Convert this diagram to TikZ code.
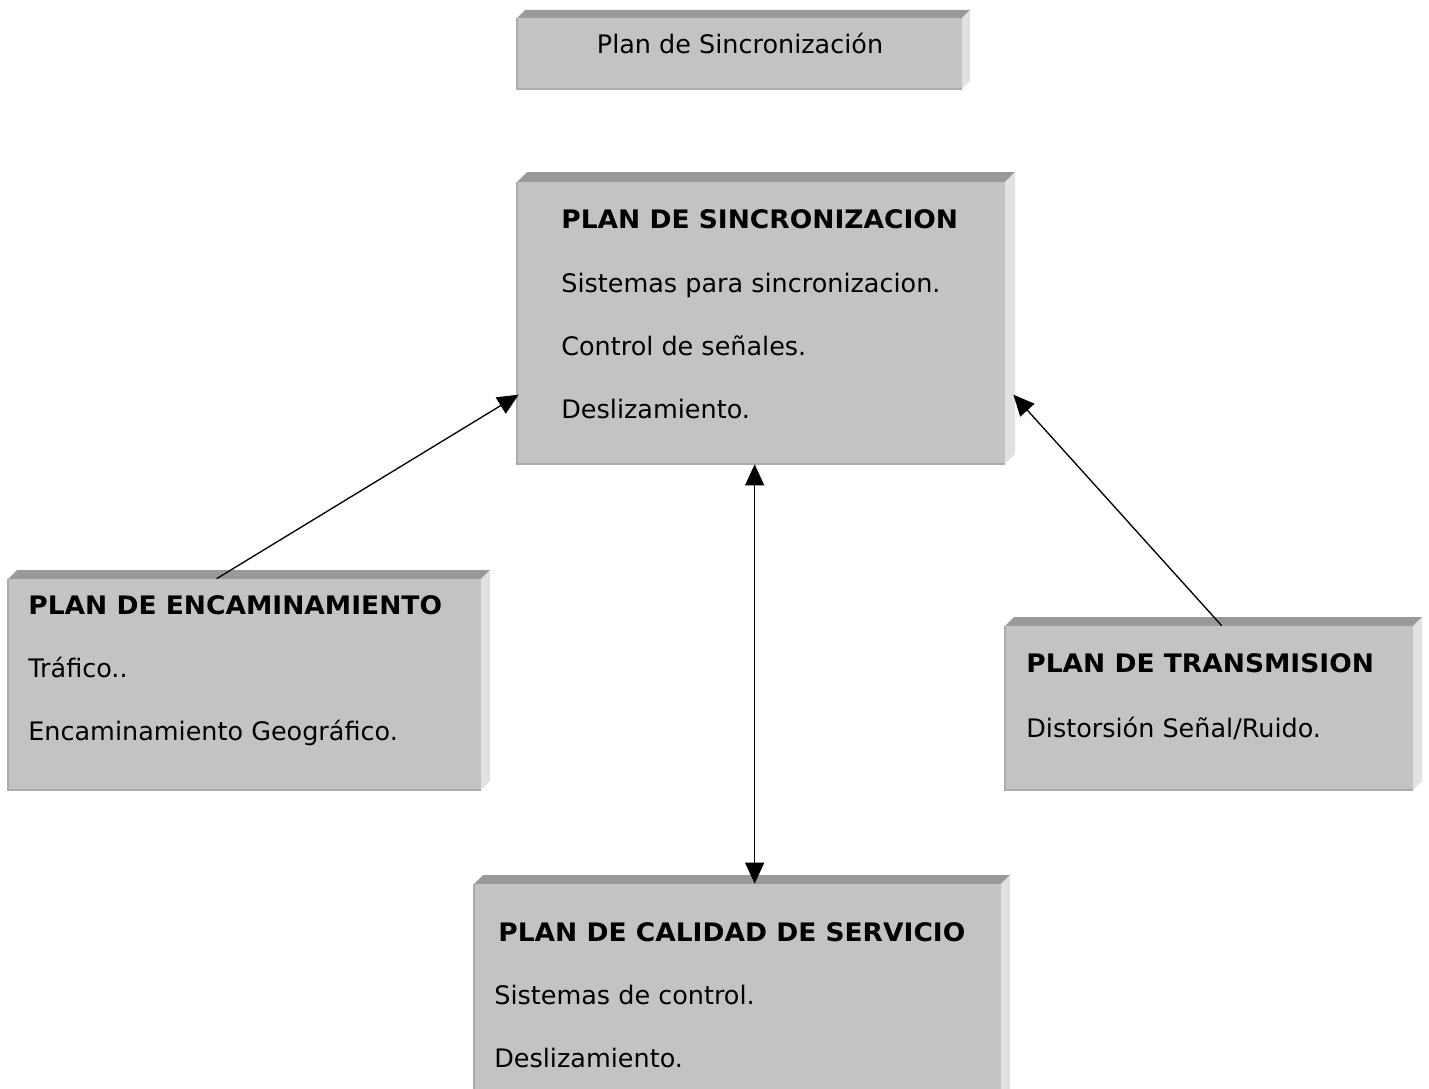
\documentclass[tikz,border=0pt]{standalone}
\usepackage{fontspec}
\setmainfont{DejaVu Sans}
\newfontfamily\widesans{DejaVu Sans}[FakeStretch=1.04]
\usetikzlibrary{arrows.meta,calc,fit}

\definecolor{facegray}{HTML}{C3C3C3}
\definecolor{topgray}{HTML}{999999}
\definecolor{sidegray}{HTML}{E1E1E1}
\definecolor{rimgray}{HTML}{ABABAB}

\tikzset{
  face/.style={fill=facegray},
  bevtop/.style={fill=topgray},
  bevside/.style={fill=sidegray},
  rim/.style={draw=rimgray, line width=0.6pt},
  txt/.style={anchor=base west, inner sep=0pt, text=black, font=\fontsize{14.5}{17}\selectfont},
  ttl/.style={txt, font=\fontsize{14.5}{17}\selectfont\widesans\bfseries},
  link/.style={draw=black, line width=0.75pt},
  tip/.style={-{Triangle[length=0.42cm,width=0.38cm]}},
  dbltip/.style={{Triangle[length=0.42cm,width=0.38cm]}-{Triangle[length=0.42cm,width=0.38cm]}},
}

% raised box: top and right bevels, flat front face, named fit node on the face
% #1 name, #2 left, #3 top, #4 right, #5 bottom, #6 bevel depth
\newcommand{\bevelbox}[6]{%
  \fill[bevtop] (#2,#3) -- (#2+#6,#3-#6) -- (#4+#6,#3-#6) -- (#4,#3) -- cycle;
  \fill[bevside] (#4,#3) -- (#4+#6,#3-#6) -- (#4+#6,#5-#6) -- (#4,#5) -- cycle;
  \fill[face] (#2,#3) rectangle (#4,#5);
  \draw[rim] (#2,#3) -- (#2,#5) -- (#4,#5);
  \node[fit={(#2,#3) (#4,#5)}, inner sep=0pt] (#1) {};
}

\begin{document}
\begin{tikzpicture}[x=0.02cm, y=-0.02cm]
  \useasboundingbox (0,0) rectangle (1429,1088);
  \clip (0,0) rectangle (1429,1088);

  % boxes
  \bevelbox{title}{517}{18}{962}{89}{8}
  \bevelbox{sync}{517}{182}{1005}{464}{10}
  \bevelbox{enc}{8}{579}{481}{790}{9}
  \bevelbox{trans}{1005}{626}{1413}{790}{9}
  \bevelbox{qos}{474}{884}{1001}{1110}{9}

  % texts
  \node[txt, anchor=base] (titletxt) at (740,54) {Plan de Sincronización};

  \node[ttl] (sync1) at (561,228) {PLAN DE SINCRONIZACION};
  \node[txt] (sync2) at (561,292) {Sistemas para sincronizacion.};
  \node[txt] (sync3) at (561,355) {Control de señales.};
  \node[txt] (sync4) at (561,418) {Deslizamiento.};

  \node[ttl] (enc1) at (28,614) {PLAN DE ENCAMINAMIENTO};
  \node[txt] (enc2) at (28,677) {Tráfico..};
  \node[txt] (enc3) at (28,740) {Encaminamiento Geográfico.};

  \node[ttl] (trans1) at (1026,672) {PLAN DE TRANSMISION};
  \node[txt] (trans2) at (1026,737) {Distorsión Señal/Ruido.};

  \node[ttl] (qos1) at (498,941) {PLAN DE CALIDAD DE SERVICIO};
  \node[txt] (qos2) at (494,1004) {Sistemas de control.};
  \node[txt] (qos3) at (494,1067) {Deslizamiento.};

  % connector end points on the box edges
  \coordinate (encTop)   at ($(enc.north west)+(209,0)$);
  \coordinate (syncL)    at ($(sync.north west)+(2,213)$);
  \coordinate (syncR)    at ($(sync.north east)+(8,213)$);
  \coordinate (transTop) at ($(trans.north west)+(217,0)$);
  \coordinate (syncB)    at ($(sync.south west)+(238,0)$);
  \coordinate (qosT)     at ($(qos.north west)+(281,0)$);

  % connectors
  \draw[link, tip] (encTop) -- (syncL);
  \draw[link, tip] (transTop) -- (syncR);
  \draw[link, dbltip] (syncB) -- (qosT);
\end{tikzpicture}
\end{document}
